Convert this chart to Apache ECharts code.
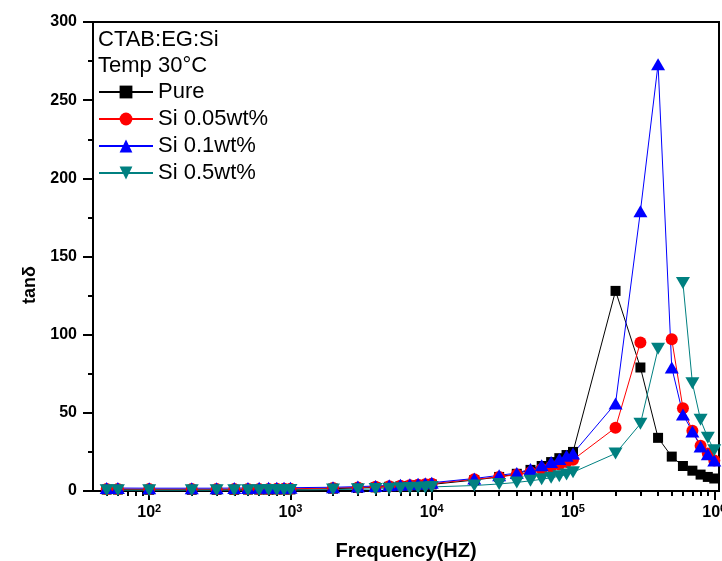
<!DOCTYPE html>
<html><head><meta charset="utf-8">
<script src="https://cdn.jsdelivr.net/npm/echarts@6/dist/echarts.min.js"></script>
<style>html,body{margin:0;padding:0;background:#fff}#c{width:722px;height:561px}</style>
</head><body><div id="c"></div>
<script>
// Frequencies (Hz)
const freq = [50,60,100,200,300,400,500,600,700,800,900,1000,
  2000,3000,4000,5000,6000,7000,8000,9000,10000,
  20000,30000,40000,50000,60000,70000,80000,90000,100000,
  200000,300000,400000,500000,600000,700000,800000,900000,1000000];
// tan delta values per series (null = no point)
const pure = [0.9,0.9,0.8,0.8,0.8,0.8,0.9,0.9,0.9,1.0,1.0,1.0,
  1.5,1.9,2.3,2.7,3.0,3.3,3.6,3.9,4.2,
  7,9,11,13.5,16,18.5,21,23,25,
  128,79,34,22,16,13,10.5,9,8];
const si005 = [1.3,1.3,1.2,1.2,1.2,1.2,1.3,1.3,1.3,1.4,1.4,1.4,
  1.9,2.3,2.7,3.1,3.4,3.7,4.0,4.3,4.7,
  7.5,9,10.5,12,14,15.5,17,18.5,20,
  40.5,95,null,97,53,38.5,29,24,19.5];
const si01 = [1.9,1.9,1.8,1.8,1.8,1.9,1.9,2.0,2.0,2.0,2.1,2.1,
  2.4,2.8,3.2,3.6,4.0,4.3,4.6,4.9,5.3,
  8,10,11.5,14,16.5,18.5,20.5,22.5,24,
  56,179,273,79,49,38,28.5,23.5,19.5];
const si05 = [0.5,0.5,0.5,0.5,0.5,0.5,0.5,0.5,0.6,0.6,0.6,0.6,
  0.9,1.1,1.3,1.5,1.7,1.9,2.1,2.3,2.6,
  3.5,4.5,5.5,6.5,7.5,8.5,9.5,10.5,12,
  24,43,91,null,133,69,45.5,34,26];
const seriesNames = ['Pure','Si 0.05wt%','Si 0.1wt%','Si 0.5wt%'];
const majorTicks = [100,1000,10000,100000,1000000];
const minorTicks = [50,60,70,80,90,200,300,400,500,600,700,800,900,
  2000,3000,4000,5000,6000,7000,8000,9000,20000,30000,40000,50000,60000,70000,80000,90000,
  200000,300000,400000,500000,600000,700000,800000,900000];
const yTicks = [0,50,100,150,200,250,300];

const FONT = 'Liberation Sans, Arial, sans-serif';
function pairs(vals){ return freq.map((f,i)=>[f, vals[i]==null ? '-' : vals[i]]); }

const chart = echarts.init(document.getElementById('c'), null, {renderer:'canvas'});
const gridBox = {left:93, right:3, top:22, bottom:70, outerBoundsMode:'none', containLabel:false};
const xMin = 40, xMax = 1.08e6;

chart.setOption({
  animation:false,
  backgroundColor:'#fff',
  grid:[Object.assign({show:true, borderColor:'#000', borderWidth:2}, gridBox),
        Object.assign({show:false}, gridBox)],
  xAxis:[{
    type:'log', logBase:10, min:xMin, max:xMax, gridIndex:0,
    axisLine:{show:true, lineStyle:{color:'#000', width:2}},
    axisTick:{show:true, inside:false, length:9, customValues:majorTicks, lineStyle:{color:'#000', width:2}},
    minorTick:{show:false},
    splitLine:{show:false},
    axisLabel:{show:true, margin:12, customValues:majorTicks,
      formatter:(v)=>'{b|10}{s|'+Math.round(Math.log10(v))+'}',
      rich:{b:{fontSize:16, fontWeight:'bold', fontFamily:FONT, color:'#000'},
            s:{fontSize:11, fontWeight:'bold', fontFamily:FONT, color:'#000', padding:[0,0,9,0]}}},
    name:'Frequency(HZ)', nameLocation:'middle', nameGap:50,
    nameTextStyle:{fontSize:20, fontWeight:'bold', fontFamily:FONT, color:'#000'}
  },{
    type:'log', logBase:10, min:xMin, max:xMax, gridIndex:1,
    axisLine:{show:false},
    axisTick:{show:true, inside:false, length:5, customValues:minorTicks, lineStyle:{color:'#000', width:2}},
    axisLabel:{show:false}, splitLine:{show:false}, minorTick:{show:false}
  }],
  yAxis:[{
    type:'value', min:0, max:300, interval:50, gridIndex:0,
    axisLine:{show:true, lineStyle:{color:'#000', width:2}},
    axisTick:{show:true, inside:false, length:10, lineStyle:{color:'#000', width:2}},
    minorTick:{show:true, splitNumber:2, length:5, lineStyle:{color:'#000', width:2}},
    splitLine:{show:false},
    axisLabel:{margin:16, fontSize:16, fontWeight:'bold', fontFamily:FONT, color:'#000',
      customValues:yTicks}
  },{
    type:'value', min:0, max:300, gridIndex:1, show:false
  }],
  legend:{
    orient:'vertical', left:98, top:81, padding:0,
    itemWidth:54, itemHeight:16, itemGap:5,
    textStyle:{fontSize:22, fontFamily:FONT, color:'#000'},
    data:seriesNames
  },
  graphic:[
    {type:'text', x:98, y:39.5, style:{text:'CTAB:EG:Si', font:'22px '+FONT, fill:'#000', verticalAlign:'middle'}},
    {type:'text', x:98, y:65.5, style:{text:'Temp 30°C', font:'22px '+FONT, fill:'#000', verticalAlign:'middle'}},
    {type:'text', x:30, y:285, rotation:Math.PI/2, style:{text:'tanδ', font:'bold 18px '+FONT, fill:'#000', align:'center', verticalAlign:'middle'}}
  ],
  series:[
    {name:seriesNames[0], type:'line', data:pairs(pure), symbol:'rect', symbolSize:10,
     itemStyle:{color:'#000000'}, lineStyle:{width:1, color:'#000000'}, connectNulls:false},
    {name:seriesNames[1], type:'line', data:pairs(si005), symbol:'circle', symbolSize:12,
     itemStyle:{color:'#ff0000'}, lineStyle:{width:1, color:'#ff0000'}, connectNulls:false},
    {name:seriesNames[2], type:'line', data:pairs(si01), symbol:'triangle', symbolSize:[14,12],
     itemStyle:{color:'#0000ff'}, lineStyle:{width:1, color:'#0000ff'}, connectNulls:false},
    {name:seriesNames[3], type:'line', data:pairs(si05), symbol:'triangle', symbolSize:[14,12], symbolRotate:180,
     itemStyle:{color:'#008080'}, lineStyle:{width:1, color:'#008080'}, connectNulls:false}
  ]
});
</script></body></html>
